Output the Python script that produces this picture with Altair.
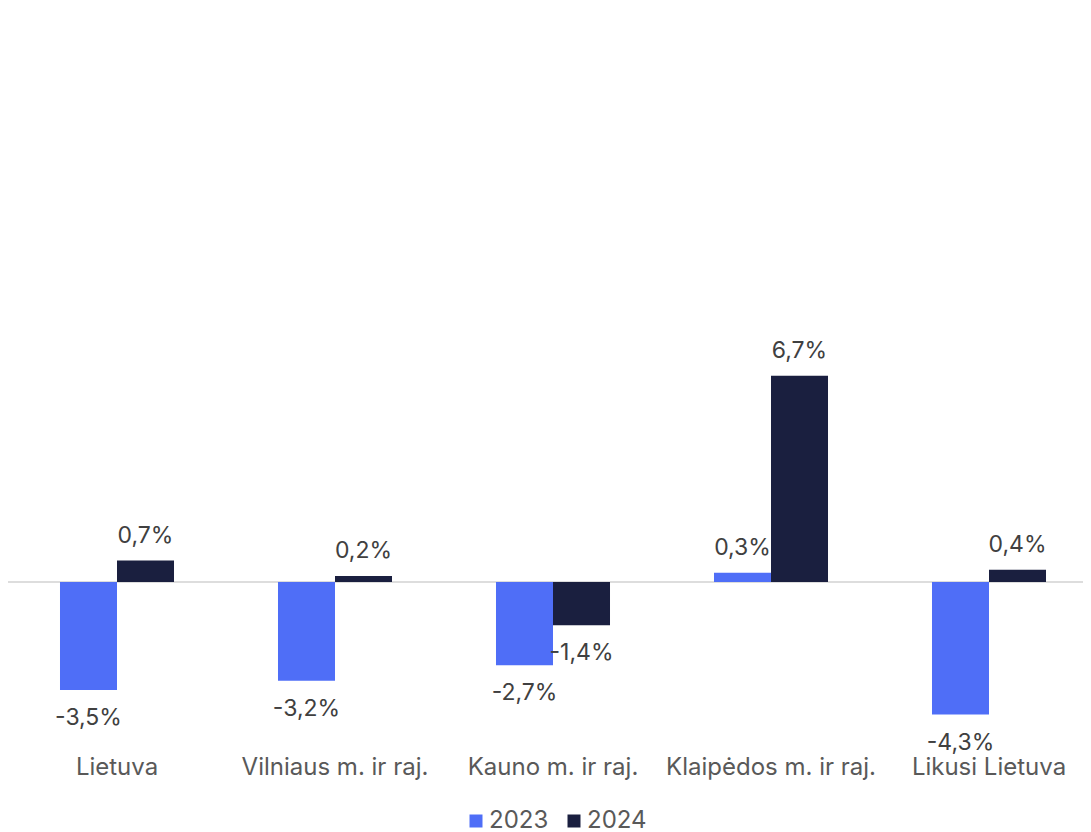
import altair as alt
import pandas as pd

categories = ["Lietuva", "Vilniaus m. ir raj.", "Kauno m. ir raj.", "Klaipėdos m. ir raj.", "Likusi Lietuva"]
series = ["2023", "2024"]
values_2023 = [-3.5, -3.2, -2.7, 0.3, -4.3]
values_2024 = [0.7, 0.2, -1.4, 6.7, 0.4]
colors = ["#4F6EF7", "#1A1F3F"]

rows = []
for c, a, b in zip(categories, values_2023, values_2024):
    rows.append({"cat": c, "year": "2023", "value": a})
    rows.append({"cat": c, "year": "2024", "value": b})
df = pd.DataFrame(rows)

FONT = "Inter"
W, H = 1075, 740

xenc = alt.X("cat:N", sort=categories,
             scale=alt.Scale(paddingInner=0.477, paddingOuter=0.2385, range=[0, 1090]),
             axis=alt.Axis(title=None, labelAngle=0, ticks=False, domain=False,
                           labelFont=FONT, labelFontSize=24, labelColor="#595959",
                           labelPadding=5, labelLimit=400, labelOverlap=False))
yscale = alt.Scale(domain=[-5.45, 18.57], nice=False, zero=True)
xoff = alt.XOffset("year:N", sort=series)

base = alt.Chart(df)

zero_rule = alt.Chart(pd.DataFrame({"z": [0]})).mark_rule(color="#DDDDDD", strokeWidth=2).encode(
    y=alt.Y("z:Q", scale=yscale, axis=None)
)

bars = base.mark_bar().encode(
    x=xenc,
    xOffset=xoff,
    y=alt.Y("value:Q", scale=yscale, axis=None),
    color=alt.Color("year:N", sort=series,
                    scale=alt.Scale(domain=series, range=colors),
                    legend=alt.Legend(title=None, orient="none", direction="horizontal",
                                      legendX=456, legendY=799, symbolType="square",
                                      symbolSize=169, symbolStrokeWidth=0,
                                      labelFont=FONT, labelFontSize=24, labelColor="#595959",
                                      labelOffset=1, columnPadding=13, padding=0)),
)

label_expr = "(datum.value < 0 ? '-' : '') + replace(format(abs(datum.value), '.1f'), '.', ',') + '%'"

pos_text = base.transform_filter("datum.value >= 0").transform_calculate(
    lbl=label_expr
).mark_text(font=FONT, fontSize=23, color="#404040", baseline="middle", dy=-25).encode(
    x=xenc, xOffset=xoff, y=alt.Y("value:Q", scale=yscale, axis=None), text="lbl:N"
)

neg_text = base.transform_filter("datum.value < 0").transform_calculate(
    lbl=label_expr
).mark_text(font=FONT, fontSize=23, color="#404040", baseline="middle", dy=28).encode(
    x=xenc, xOffset=xoff, y=alt.Y("value:Q", scale=yscale, axis=None), text="lbl:N"
)

chart = alt.layer(zero_rule, bars, pos_text, neg_text).properties(
    width=W, height=H,
    autosize=alt.AutoSizeParams(type="none"),
    padding={"left": 0, "top": 2, "right": 0, "bottom": 84},
).configure_view(stroke=None)

chart.save("out.html", embed_options={"renderer": "svg", "actions": False})
